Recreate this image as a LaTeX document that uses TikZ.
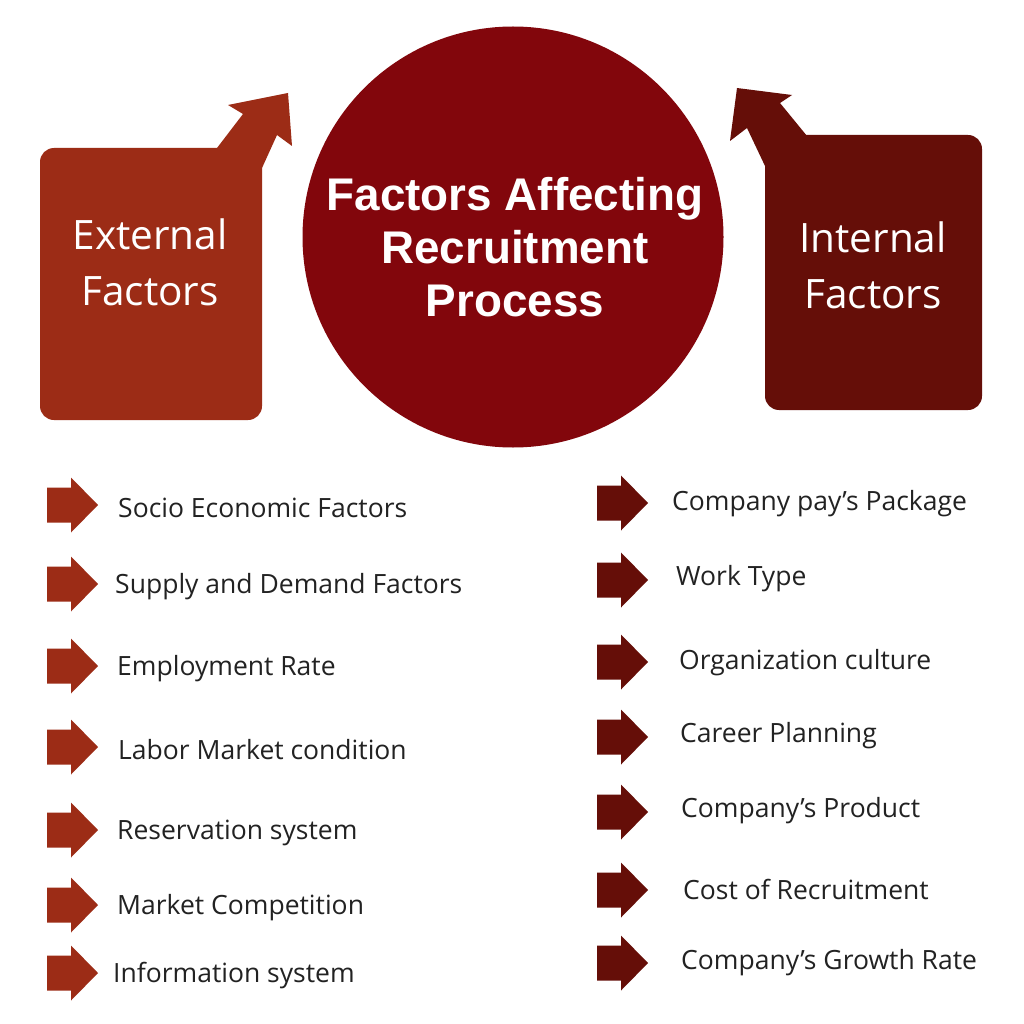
\documentclass[tikz,border=0pt]{standalone}
\usepackage{fontspec}
\setmainfont{Open Sans}
\newfontfamily\titlefont{Liberation Sans}
\begin{document}
\begin{tikzpicture}[x=1pt,y=-1pt]
\definecolor{extc}{RGB}{156,44,22}
\definecolor{intc}{RGB}{101,14,8}
\definecolor{circc}{RGB}{130,6,12}
\definecolor{txtc}{RGB}{34,34,34}
\tikzset{
  bul/.pic={\fill (0,-17.5) -- (24,-17.5) -- (24,-27.5) -- (51,0) -- (24,27.5) -- (24,17.5) -- (0,17.5) -- cycle;},
  item/.style={anchor=west, text=txtc, font=\fontsize{26.5}{30}\selectfont, inner sep=0pt, yshift=-3pt},
  head/.style={text=white, align=center, font=\fontsize{40.5}{56}\selectfont},
}
\useasboundingbox (0,0) rectangle (1024,1024);
\fill[white] (0,0) rectangle (1024,1024);
% left shape
\fill[extc, rounded corners=14] (40,148) rectangle (262,420);
\fill[extc] (217,148) -- (243,114) -- (228,105) -- (288,93) -- (292,146) -- (277,135) -- (262,168) -- (217,168) -- cycle;
% right shape
\fill[intc, rounded corners=14] (765,135) rectangle (982,410);
\fill[intc] (807,136) -- (780,103) -- (792,95) -- (737,88) -- (730,141) -- (747,128) -- (765,166) -- (807,166) -- cycle;
% circle
\node[circle, fill=circc, minimum size=421, inner sep=0pt] (c) at (513,237) {};
\node[text=white, align=center, font=\titlefont\bfseries\fontsize{45.8}{53}\selectfont] (title) at (515,247) {Factors Affecting\\Recruitment\\Process};
\node[head] (ext) at (150,262) {External\\Factors};
\node[head] (int) at (873,265) {Internal\\Factors};
% left list
\foreach \y/\x/\t [count=\i] in {505/118/Socio Economic Factors, 584/115/Supply and Demand Factors, 666/117/Employment Rate, 747/118/Labor Market condition, 830/117/Reservation system, 905/117/Market Competition, 973/113/Information system}{
  \pic[extc] at (47,\y) {bul};
  \node[item] (l\i) at (\x,\y) {\t};
}
% right list
\foreach \y/\ay/\x/\t [count=\i] in {501/503/672/Company pay’s Package, 576/580/676/Work Type, 660/662/679/Organization culture, 733/737/680/Career Planning, 808/812/681/Company’s Product, 886/890/683/Cost of Recruitment, 960/963/681/Company’s Growth Rate}{
  \pic[intc] at (597,\ay) {bul};
  \node[item] (r\i) at (\x,\y) {\t};
}
\end{tikzpicture}
\end{document}
